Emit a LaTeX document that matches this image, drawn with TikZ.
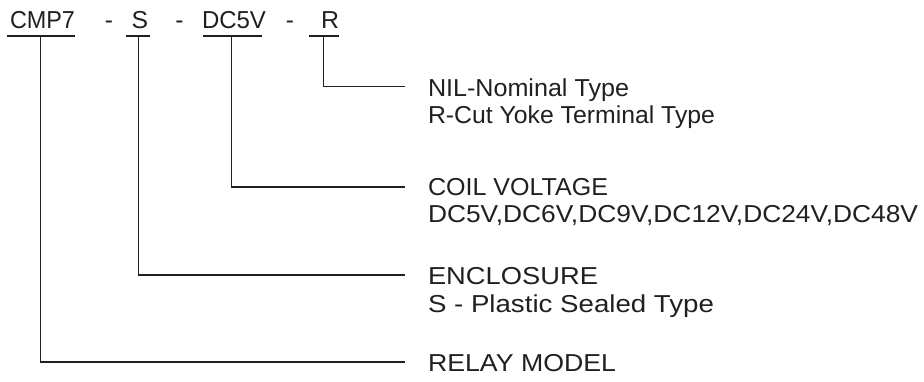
\documentclass[tikz,border=0pt]{standalone}
\usepackage{fontspec}
\setmainfont{Liberation Sans}
\usepackage{graphicx}
\definecolor{ink}{RGB}{35,31,32}
\newcommand{\fitw}[2]{\resizebox{#1pt}{\height}{#2}}
\begin{document}
\begin{tikzpicture}[x=1pt,y=-1pt,line width=1.1pt,draw=ink,
  every node/.style={inner sep=0pt,outer sep=0pt,font=\fontsize{24.5}{27}\selectfont,text=ink},
  code/.style={anchor=base west},
  sep/.style={anchor=base},
  desc/.style={anchor=base west},
  lead/.style={draw=ink,line width=1.1pt}]
\useasboundingbox (0,0) rectangle (924,381);
% code line
\node[code] (cmp) at (10,28.3) {\fitw{65}{CMP7}};
\node[sep]  (d1)  at (109,28.3) {-};
\node[code] (s)   at (131.5,28.3) {\fitw{16.5}{S}};
\node[sep]  (d2)  at (179.5,28.3) {-};
\node[code] (dc)  at (202,28.3) {\fitw{64}{DC5V}};
\node[sep]  (d3)  at (290,28.3) {-};
\node[code] (r)   at (321,28.3) {\fitw{18}{R}};
% underlines
\coordinate (cmpA) at (7,36);   \coordinate (cmpB) at (75,36);
\coordinate (sA)   at (126,36); \coordinate (sB)   at (150,36);
\coordinate (dcA)  at (203,36); \coordinate (dcB)  at (262,36);
\coordinate (rA)   at (309,36); \coordinate (rB)   at (339,36);
\draw[lead] (cmpA) -- (cmpB);
\draw[lead] (sA) -- (sB);
\draw[lead] (dcA) -- (dcB);
\draw[lead] (rA) -- (rB);
% descriptions
\node[desc] (nil)  at (428,96)  {\fitw{201}{NIL-Nominal Type}};
\node[desc] (rcut) at (428,123) {\fitw{287}{R-Cut Yoke Terminal Type}};
\node[desc] (coil) at (428,195) {\fitw{180}{COIL VOLTAGE}};
\node[desc] (dcv)  at (428,222) {\fitw{490}{DC5V,DC6V,DC9V,DC12V,DC24V,DC48V}};
\node[desc] (enc)  at (428,284) {\fitw{170}{ENCLOSURE}};
\node[desc] (spl)  at (428,312) {\fitw{286}{S - Plastic Sealed Type}};
\node[desc] (rel)  at (428,371) {\fitw{188}{RELAY MODEL}};
% leader lines
\coordinate (cmpT) at (40.7,36);  \coordinate (relE) at (405,362);
\coordinate (sT)   at (138.5,36); \coordinate (encE) at (405,275);
\coordinate (dcT)  at (231.7,36); \coordinate (coilE) at (405,187);
\coordinate (rT)   at (323.3,36); \coordinate (nilE) at (405,86.5);
\draw[lead] (cmpT) |- (relE);
\draw[lead] (sT) |- (encE);
\draw[lead] (dcT) |- (coilE);
\draw[lead] (rT) |- (nilE);
\end{tikzpicture}
\end{document}
